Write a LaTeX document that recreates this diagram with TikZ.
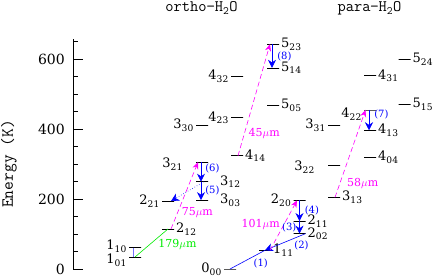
\documentclass[tikz,border=0pt]{standalone}
\usepackage{fontspec}
\setmainfont{DejaVu Serif}
\usetikzlibrary{arrows.meta,calc}
\definecolor{LevBlue}{RGB}{0,0,255}
\definecolor{PumpPink}{RGB}{255,0,255}
\definecolor{FirGreen}{RGB}{0,235,0}
\newcommand{\lv}[2]{#1\textsubscript{#2}}
\tikzset{
  lev/.style={draw,line width=.6pt,minimum width=12pt,minimum height=0pt,inner sep=0pt,outer sep=0pt},
  lab/.style={font=\fontsize{13}{15}\selectfont,inner sep=2pt},
  ticklab/.style={font=\fontsize{14}{16}\selectfont,anchor=east,inner sep=1pt},
  heading/.style={font=\ttfamily\fontsize{16}{18}\selectfont,anchor=base},
  axis/.style={line width=.6pt},
  cascade/.style={LevBlue,line width=.6pt,-{Stealth[length=8pt,width=8pt]}},
  pump/.style={PumpPink,line width=.6pt,dash pattern=on 5pt off 3pt,-{Stealth[length=7pt,width=6pt]}},
  numlab/.style={LevBlue,font=\fontsize{10}{12}\selectfont,inner sep=1pt},
  wavelab/.style={font=\fontsize{11}{13}\selectfont,inner sep=1pt},
}

\begin{document}
\begin{tikzpicture}[x=1pt,y=.35pt]
  \useasboundingbox (0,-25.71) rectangle (436,768.57);
  % energy axis
  \draw[axis] (73,0) -- (73,657);
  \foreach \e in {50,100,...,650} \draw[axis] (73,\e) -- ++(5,0);
  \foreach \e in {0,200,400,600} {
    \draw[axis] (73,\e) -- ++(10,0);
    \node[ticklab] (t\e) at (66,\e) {\e};
  }
  \node[font=\ttfamily\fontsize{17}{19}\selectfont,rotate=90] (ylab) at (9,300) {Energy (K)};
  \node[heading] (tortho) at (201.5,735.7) {ortho−H\textsubscript{2}O};
  \node[heading] (tpara) at (369.5,735.7) {para−H\textsubscript{2}O};

  % ortho levels
  \node[lev,label={[lab,yshift=1.5pt]left:\lv{1}{10}}] (n110) at (135,61.0) {};
  \node[lev,label={[lab,yshift=-3pt]left:\lv{1}{01}}] (n101) at (135,34.2) {};
  \node[lev,label={[lab]right:\lv{2}{12}}] (n212) at (168,114.4) {};
  \node[lev,label={[lab]left:\lv{2}{21}}] (n221) at (168,194.1) {};
  \node[lev,label={[lab,xshift=10pt]right:\lv{3}{03}}] (n303) at (202,196.8) {};
  \node[lev,label={[lab,xshift=10pt]right:\lv{3}{12}}] (n312) at (202,249.4) {};
  \node[lev,label={[lab,xshift=-11pt,yshift=-2pt]left:\lv{3}{21}}] (n321) at (202,305.3) {};
  \node[lev,label={[lab]left:\lv{3}{30}}] (n330) at (202,410.7) {};
  \node[lev,label={[lab]right:\lv{4}{14}}] (n414) at (237,323.5) {};
  \node[lev,label={[lab]left:\lv{4}{23}}] (n423) at (237,432.2) {};
  \node[lev,label={[lab]left:\lv{4}{32}}] (n432) at (237,550.4) {};
  \node[lev,label={[lab]right:\lv{5}{05}}] (n505) at (273,468.1) {};
  \node[lev,label={[lab]right:\lv{5}{14}}] (n514) at (273,574.8) {};
  \node[lev,label={[lab]right:\lv{5}{23}}] (n523) at (273,642.4) {};

  % para levels
  \node[lev,label={[lab]left:\lv{0}{00}}] (n000) at (230,0) {};
  \node[lev,label={[lab]right:\lv{1}{11}}] (n111) at (265,53.4) {};
  \node[lev,label={[lab]right:\lv{2}{02}}] (n202) at (299.5,101.0) {};
  \node[lev,label={[lab]right:\lv{2}{11}}] (n211) at (299.5,136.9) {};
  \node[lev,label={[lab]left:\lv{2}{20}}] (n220) at (299.5,195.9) {};
  \node[lev,label={[lab]right:\lv{3}{13}}] (n313) at (334,204.7) {};
  \node[lev,label={[lab,xshift=-11pt,yshift=-2pt]left:\lv{3}{22}}] (n322) at (334,296.8) {};
  \node[lev,label={[lab]left:\lv{3}{31}}] (n331) at (334,410.4) {};
  \node[lev,label={[lab]right:\lv{4}{04}}] (n404) at (370,319.5) {};
  \node[lev,label={[lab]right:\lv{4}{13}}] (n413) at (370,396.4) {};
  \node[lev,label={[lab,yshift=-4pt]left:\lv{4}{22}}] (n422) at (370,454.3) {};
  \node[lev,label={[lab]right:\lv{4}{31}}] (n431) at (370,552.3) {};
  \node[lev,label={[lab]right:\lv{5}{15}}] (n515) at (404.5,469.9) {};
  \node[lev,label={[lab]right:\lv{5}{24}}] (n524) at (404.5,598.8) {};

  % ortho transitions
  \draw[LevBlue!55,line width=.6pt] ([xshift=-2pt]n110.center) -- ([xshift=-2pt]n101.center);
  \draw[FirGreen,line width=.6pt] (n101.center) -- node[wavelab,pos=.46,anchor=west,xshift=7pt] (w179) {179$\mu$m} (n212.center);
  \draw[pump] ([xshift=3pt]n212.center) -- node[wavelab,pos=.24,anchor=west,xshift=3pt] (w75) {75$\mu$m} ([xshift=-4pt]n321.center);
  \draw[LevBlue,line width=.6pt,dotted,-{Stealth[length=8pt,width=8pt]}] ([xshift=2pt]n312.center) -- ([xshift=3pt]n221.center);
  \draw[cascade] ([xshift=-1pt]n321.center) -- node[numlab,pos=.32,right=3pt] (c6) {(6)} ([xshift=-1pt]n312.center);
  \draw[cascade] ([xshift=-1pt]n312.center) -- node[numlab,midway,right=3pt] (c5) {(5)} ([xshift=-1pt]n303.center);
  \draw[pump] ([xshift=1pt]n414.center) -- node[wavelab,pos=.2,anchor=west,xshift=3pt] (w45) {45$\mu$m} ([xshift=-3pt]n523.center);
  \draw[cascade] ([xshift=-1pt]n523.center) -- node[numlab,midway,right=4pt] (c8) {(8)} ([xshift=-1pt]n514.center);

  % para transitions
  \draw[LevBlue,line width=.6pt] (n000.center) -- node[numlab,pos=.88,below=5pt] (c1) {(1)} (n111.center);
  \draw[cascade] (n202.east) -- node[numlab,pos=.1,below=4pt] (c2) {(2)} (n111.center);
  \draw[pump] ([xshift=5pt]n111.center) -- node[wavelab,pos=.52,anchor=east,xshift=-3pt] (w101) {101$\mu$m} ([xshift=-2.5pt]n220.center);
  \node[numlab,left=2pt] (c3) at ($(n211.center)!.5!(n202.center)$) {(3)};
  \draw[cascade] (n211.center) -- (n202.center);
  \draw[cascade] (n220.center) -- node[numlab,midway,right=4pt] (c4) {(4)} (n211.center);
  \draw[pump] ([xshift=1pt]n313.center) -- node[wavelab,pos=.16,anchor=west,xshift=6pt] (w58) {58$\mu$m} ([xshift=-4.5pt]n422.center);
  \draw[cascade] ([xshift=-1pt]n422.center) -- node[numlab,pos=.2,right=4pt] (c7) {(7)} ([xshift=-1pt]n413.center);
\end{tikzpicture}
\end{document}
